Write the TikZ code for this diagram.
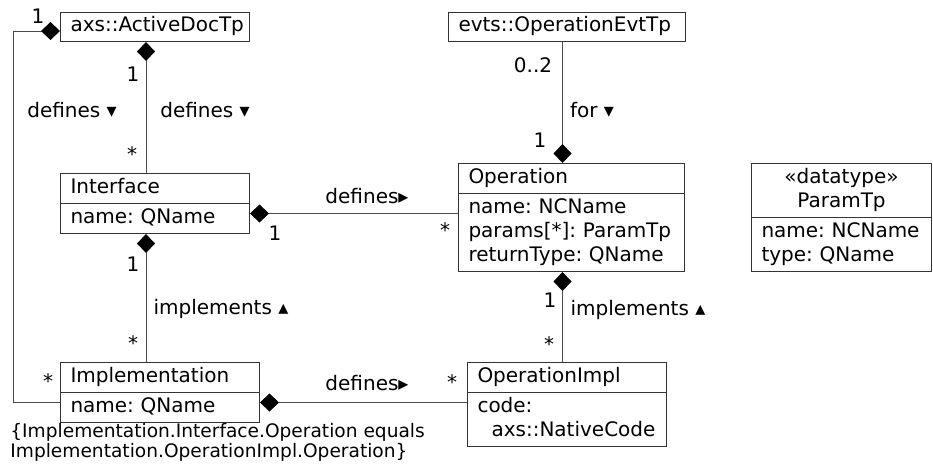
\documentclass[tikz,border=0pt]{standalone}
\usepackage{fontspec}
\setmainfont{DejaVu Sans}
\usetikzlibrary{arrows.meta}
\usetikzlibrary{positioning}
\usetikzlibrary{shapes.multipart}
\frenchspacing
\hyphenpenalty=10000
\exhyphenpenalty=10000
\tikzset{
	umlclass/.style={
		rectangle split,
		rectangle split parts=2,
		draw=black!80, line width=0.5pt,
		align=left,
		inner xsep=5pt, inner ysep=1.25pt,
		anchor=north west},
	umltype/.style={
		rectangle,
		draw=black!80, line width=0.5pt,
		align=left,
		inner xsep=5pt, inner ysep=1.25pt,
		anchor=north west},
	assoc/.style={draw=black!70, line width=0.5pt},
	compose/.style={assoc, {Diamond[length=9.5pt,width=9pt,color=black]}-},
	mult/.style={inner sep=0pt},
	rolename/.style={inner sep=0pt},
}

\begin{document}
\begin{tikzpicture}[x=0.5pt, y=-0.5pt, font=\fontsize{10}{12}\selectfont]
	\useasboundingbox (0,0) rectangle (933,466);

	% classes
	\node[umltype, text width=84.5pt] (adt) at (60,12) {\strut axs::ActiveDocTp};
	\node[umltype, text width=108.5pt] (evt) at (448,12) {\strut evts::OperationEvtTp};
	\node[umlclass, text width=84.5pt] (ifc) at (60,173)
		{\strut Interface \nodepart{two} \strut name: QName};
	\node[umlclass, text width=103pt] (op) at (458,163)
		{\strut Operation \nodepart{two} \strut name: NCName\\\strut params[*]: ParamTp\\\strut returnType: QName};
	\node[umlclass, text width=80pt] (param) at (751,163)
		{\makebox[80pt]{\strut «datatype»}\\\makebox[80pt]{\strut ParamTp} \nodepart{two} \strut name: NCName\\\strut type: QName};
	\node[umlclass, text width=89.5pt] (impl) at (60,362)
		{\strut Implementation \nodepart{two} \strut name: QName};
	\node[umlclass, text width=89.5pt] (opimpl) at (467,362)
		{\strut OperationImpl \nodepart{two} \strut code:\\\strut\hspace*{7pt}axs::NativeCode};

	% compositions
	\draw[compose] ([xshift=-4.5pt]adt.south) -- ([xshift=-4.5pt]adt.south |- ifc.north);
	\draw[compose] ([yshift=-2pt]adt.west) -- ++(-47,0) |- ([yshift=-5pt]impl.west);
	\draw[compose] ([xshift=-4.5pt]op.north) -- ([xshift=-4.5pt]op.north |- evt.south);
	\draw[compose] ([yshift=-5pt]ifc.east) -- ([yshift=-5pt]ifc.east -| op.west);
	\draw[compose] ([xshift=-4.5pt]ifc.south) -- ([xshift=-4.5pt]ifc.south |- impl.north);
	\draw[compose] ([xshift=-4.5pt]op.south) -- ([xshift=-4.5pt]op.south |- opimpl.north);
	\draw[compose] ([yshift=-5pt]impl.east) -- ([yshift=-5pt]impl.east -| opimpl.west);

	% multiplicities and names
	\node[mult] (m-adt-impl) at (38,16) {1};
	\node[mult] (m-adt-ifc) at (133,74) {1};
	\node[mult] (m-ifc-adt) at (132,154) {*};
	\node[rolename] (r-adt-impl) at (72,110) {defines ▾};
	\node[rolename] (r-adt-ifc) at (205,110) {defines ▾};
	\node[mult] (m-evt-op) at (533,65) {0..2};
	\node[rolename] (r-evt-op) at (592,110) {for ▾};
	\node[mult] (m-op-evt) at (540,140) {1};
	\node[mult] (m-ifc-op) at (275,233) {1};
	\node[mult] (m-op-ifc) at (445,230) {*};
	\node[rolename] (r-ifc-op) at (367,196) {defines▸};
	\node[mult] (m-ifc-impl) at (133,264) {1};
	\node[rolename] (r-ifc-impl) at (221,309) {implements ▴};
	\node[mult] (m-impl-ifc) at (133,343) {*};
	\node[mult] (m-impl-adt) at (48,381) {*};
	\node[mult] (m-op-opimpl) at (550,300) {1};
	\node[rolename] (r-op-opimpl) at (638,310) {implements ▴};
	\node[mult] (m-opimpl-op) at (549,344) {*};
	\node[rolename] (r-impl-opimpl) at (367,383) {defines▸};
	\node[mult] (m-opimpl-impl) at (452,382) {*};

	% constraint
	\node[align=left, anchor=north west, inner sep=0pt, font=\fontsize{9.3}{10}\selectfont] (constr) at (10,423)
		{\{Implementation.Interface.Operation equals\\Implementation.OperationImpl.Operation\}};
\end{tikzpicture}
\end{document}
